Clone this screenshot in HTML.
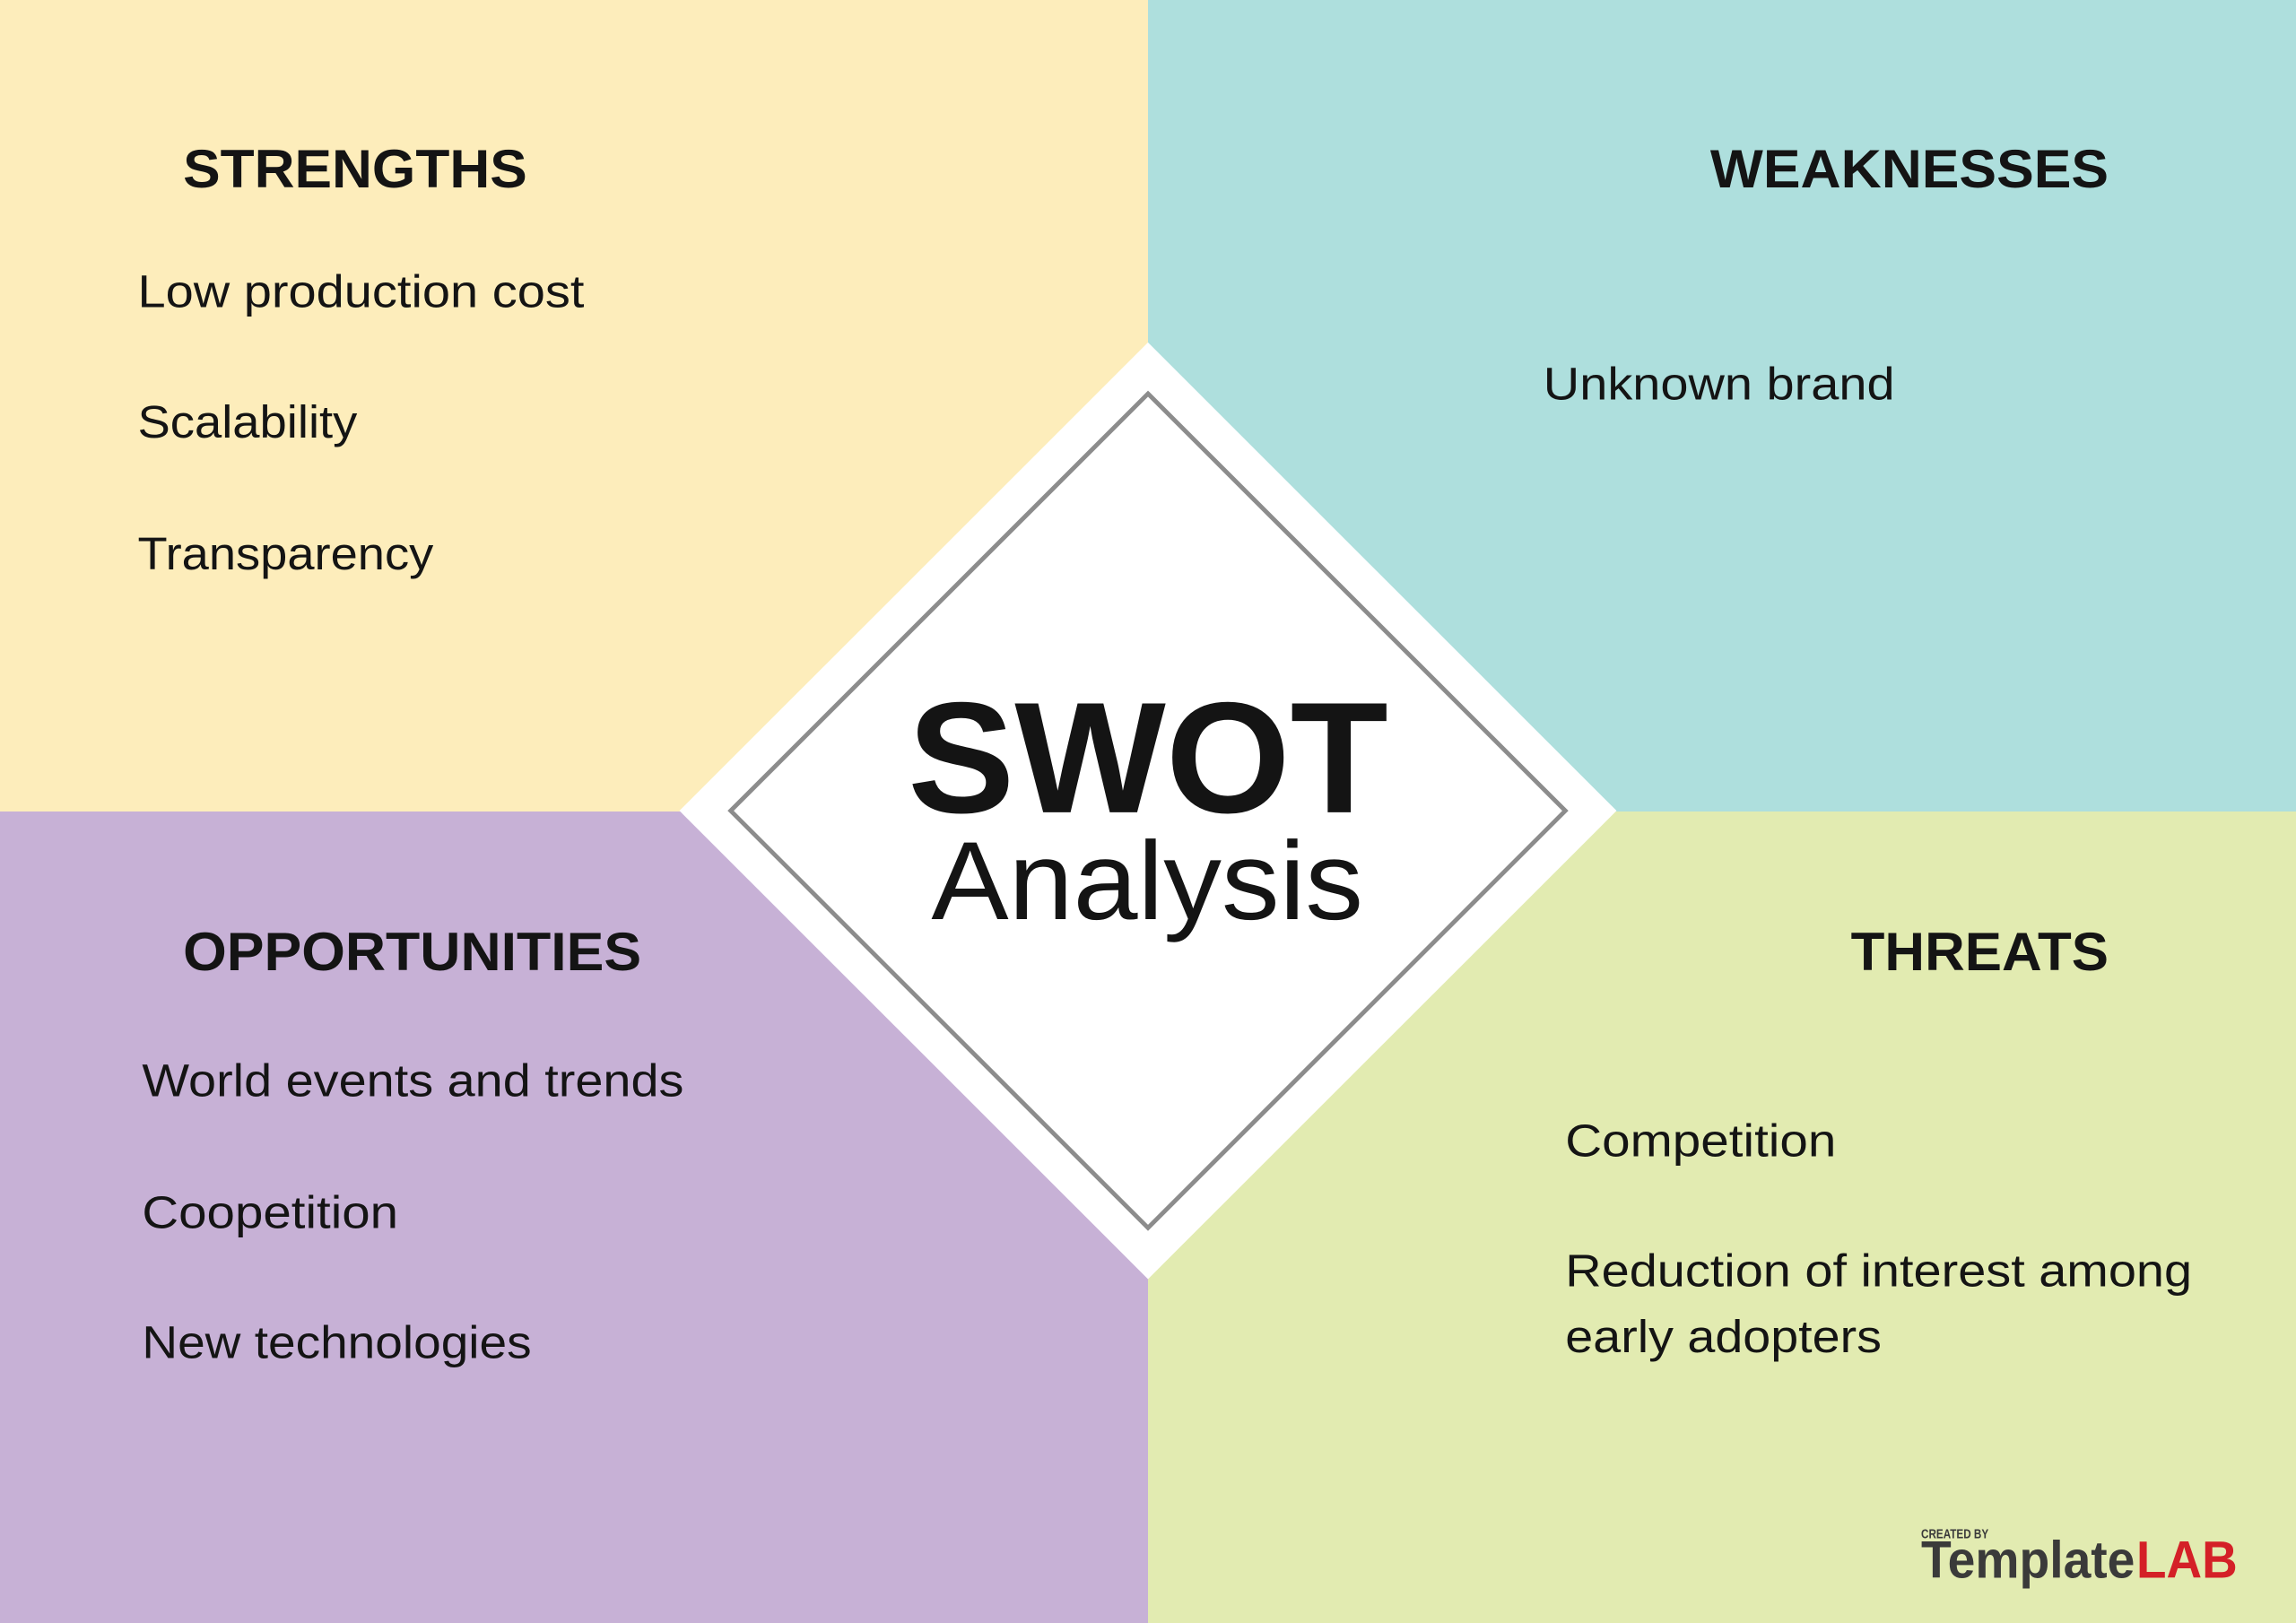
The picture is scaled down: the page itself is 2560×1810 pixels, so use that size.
<!DOCTYPE html>
<html><head><meta charset="utf-8"><style>
html,body{margin:0;padding:0;width:2560px;height:1810px;overflow:hidden;background:#fff}
svg{display:block}
text{font-family:"Liberation Sans",sans-serif;fill:#141414}
.h{font-weight:bold;font-size:37px}
.b{font-size:31px}
</style></head><body>
<svg width="2560" height="1810" viewBox="0 0 1568 1109" preserveAspectRatio="none">
<rect x="0" y="0" width="784" height="554.5" fill="#fdedbb"/>
<rect x="784" y="0" width="784" height="554.5" fill="#aedfdd"/>
<rect x="0" y="554.5" width="784" height="554.5" fill="#c7b1d6"/>
<rect x="784" y="554.5" width="784" height="554.5" fill="#e2ebb1"/>
<polygon points="784,234 1104,554 784,874 464,554" fill="#fff"/>
<polygon points="784,269 1069,554 784,839 499,554" fill="none" stroke="#8c8c8c" stroke-width="3"/>

<text class="h" x="125" y="128" textLength="235" lengthAdjust="spacingAndGlyphs">STRENGTHS</text>
<text class="b" x="94" y="210" textLength="305" lengthAdjust="spacingAndGlyphs">Low production cost</text>
<text class="b" x="94" y="299" textLength="150" lengthAdjust="spacingAndGlyphs">Scalability</text>
<text class="b" x="94" y="389" textLength="202" lengthAdjust="spacingAndGlyphs">Transparency</text>

<text class="h" x="1168" y="128" textLength="272" lengthAdjust="spacingAndGlyphs">WEAKNESSES</text>
<text class="b" x="1054" y="273" textLength="240" lengthAdjust="spacingAndGlyphs">Unknown brand</text>

<text class="h" x="125" y="663" textLength="313" lengthAdjust="spacingAndGlyphs">OPPORTUNITIES</text>
<text class="b" x="97" y="749" textLength="370" lengthAdjust="spacingAndGlyphs">World events and trends</text>
<text class="b" x="97" y="839" textLength="175" lengthAdjust="spacingAndGlyphs">Coopetition</text>
<text class="b" x="97" y="928" textLength="266" lengthAdjust="spacingAndGlyphs">New technologies</text>

<text class="h" x="1264" y="663" textLength="176" lengthAdjust="spacingAndGlyphs">THREATS</text>
<text class="b" x="1069" y="790" textLength="185" lengthAdjust="spacingAndGlyphs">Competition</text>
<text class="b" x="1069" y="879" textLength="428" lengthAdjust="spacingAndGlyphs">Reduction of interest among</text>
<text class="b" x="1069" y="924" textLength="216" lengthAdjust="spacingAndGlyphs">early adopters</text>

<text x="620" y="555" style="font-weight:bold;font-size:108px" textLength="328" lengthAdjust="spacingAndGlyphs">SWOT</text>
<text x="636" y="628" style="font-size:76px" textLength="295" lengthAdjust="spacingAndGlyphs">Analysis</text>

<text x="1312" y="1051" style="font-weight:bold;font-size:9px;fill:#3a3a3a" textLength="46" lengthAdjust="spacingAndGlyphs">CREATED BY</text>
<text x="1312" y="1078" style="font-weight:bold;font-size:36px;fill:#3a3a3a" textLength="146" lengthAdjust="spacingAndGlyphs">Template</text>
<text x="1459" y="1078" style="font-weight:bold;font-size:36px;fill:#d42027" textLength="69" lengthAdjust="spacingAndGlyphs">LAB</text>
</svg>
</body></html>
